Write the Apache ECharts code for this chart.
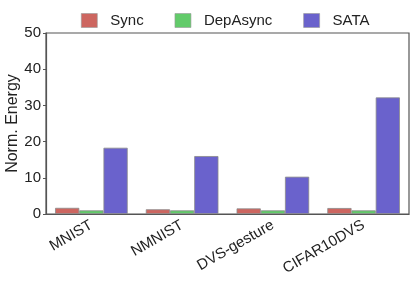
<!DOCTYPE html>
<html><head><meta charset="utf-8">
<script src="https://cdn.jsdelivr.net/npm/echarts@6/dist/echarts.min.js"></script>
<style>html,body{margin:0;padding:0;background:#fff}#c{width:415px;height:285px}</style>
</head><body><div id="c"></div>
<script>
const categories = ['MNIST', 'NMNIST', 'DVS-gesture', 'CIFAR10DVS'];
const syncVals = [1.7, 1.3, 1.55, 1.65];
const depAsyncVals = [1.0, 1.0, 1.0, 1.0];
const sataVals = [18.3, 16.0, 10.3, 32.2];
const yTicks = [0, 10, 20, 30, 40, 50];

const font = 'Liberation Sans, Arial, sans-serif';
const chart = echarts.init(document.getElementById('c'));
const mk = (name, data, color) => ({
  name, type: 'bar', data,
  barGap: '0%', barCategoryGap: '20%',
  itemStyle: { color, borderColor: '#8a8a8a', borderWidth: 0.8 }
});
chart.setOption({
  animation: false,
  textStyle: { fontFamily: font },
  legend: {
    top: 8, left: 76, itemWidth: 16, itemHeight: 14, itemGap: 31, icon: 'rect',
    itemStyle: { borderColor: '#999', borderWidth: 0.6 },
    textStyle: { fontSize: 15, color: '#222', fontFamily: font, padding: [0,0,0,8] },
    data: ['Sync', 'DepAsync', 'SATA']
  },
  grid: { left: 46, right: 6, top: 33, bottom: 71, outerBoundsMode: 'none', containLabel: false,
    show: true, borderColor: '#555', borderWidth: 1.2, backgroundColor: '#fff' },
  xAxis: {
    type: 'category', data: categories,
    axisLine: { lineStyle: { color: '#555', width: 1.2 } },
    axisTick: { show: false },
    axisLabel: { rotate: 30, fontSize: 15, color: '#222', margin: 10, fontFamily: font }
  },
  yAxis: {
    type: 'value', min: 0, max: 50, interval: 10,
    name: 'Norm. Energy', nameLocation: 'middle', nameGap: 25, nameMoveOverlap: false,
    nameTextStyle: { fontSize: 16, color: '#222', fontFamily: font },
    splitLine: { show: false },
    axisLine: { show: true, lineStyle: { color: '#555', width: 1.2 } },
    axisTick: { show: true, length: 3, lineStyle: { color: '#555' } },
    axisLabel: { fontSize: 15, color: '#222', margin: 5, fontFamily: font,
      formatter: v => yTicks.includes(v) ? String(v) : '' }
  },
  series: [
    mk('Sync', syncVals, '#cd6660'),
    mk('DepAsync', depAsyncVals, '#62cb6a'),
    mk('SATA', sataVals, '#6a62cc')
  ]
});
</script></body></html>
